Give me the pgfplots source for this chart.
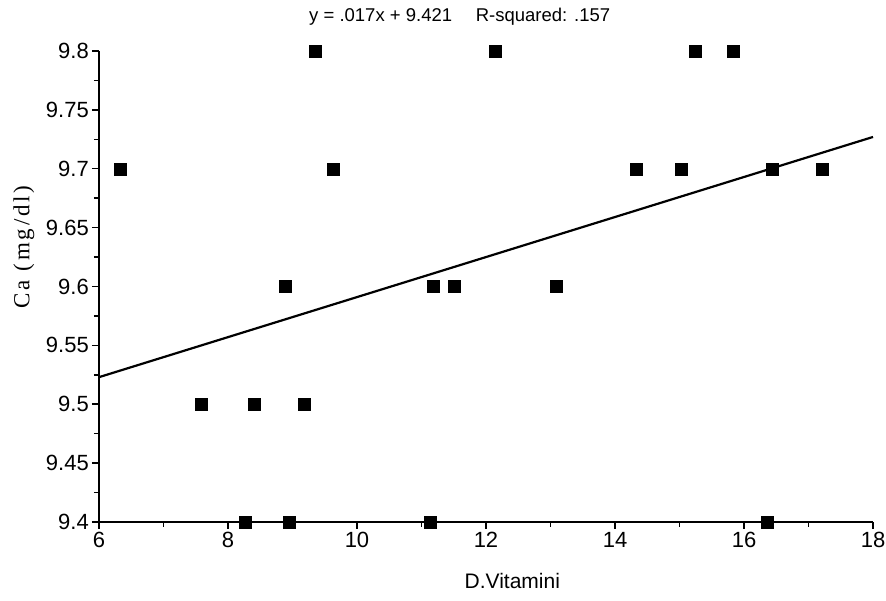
\documentclass[border=0pt]{standalone}
\usepackage{fontspec}
\setmainfont{Liberation Sans}
\newfontfamily\seriflab[LetterSpace=12]{Liberation Serif}
\usepackage{pgfplots}
\pgfplotsset{compat=1.18}
\pgfplotstableread{
x y
6.33 9.7
7.58 9.5
8.40 9.5
9.18 9.5
8.26 9.4
8.95 9.4
11.13 9.4
16.36 9.4
8.88 9.6
9.35 9.8
9.63 9.7
11.18 9.6
11.50 9.6
12.14 9.8
13.09 9.6
14.33 9.7
15.02 9.7
15.24 9.8
15.84 9.8
16.43 9.7
17.22 9.7
}\pts
\begin{document}
\begin{tikzpicture}
\begin{axis}[
  scale only axis, width=774pt, height=471pt,
  xmin=6, xmax=18, ymin=9.4, ymax=9.8,
  axis x line*=bottom, axis y line*=left,
  axis line style={line width=1.8pt},
  xtick={6,8,10,12,14,16,18},
  ytick={9.4,9.45,9.5,9.55,9.6,9.65,9.7,9.75,9.8},
  yticklabels={9.4,9.45,9.5,9.55,9.6,9.65,9.7,9.75,9.8},
  minor x tick num=1, minor y tick num=1,
  tick align=outside,
  major tick length=7pt, minor tick length=5pt,
  tick style={line width=1.5pt, black},
  /pgf/number format/assume math mode=true,
  ticklabel style={font=\fontsize{22}{24}\selectfont},
  xticklabel style={inner sep=3pt},
  yticklabel style={inner sep=3pt},
  xlabel={D.Vitamini},
  xlabel style={at={(axis description cs:0.534,-0.125)}, anchor=center, font=\fontsize{21}{24}\selectfont},
  ylabel={Ca (mg/dl)},
  ylabel style={at={(axis description cs:-0.097,0.584)}, anchor=center, font=\seriflab\fontsize{23}{26}\selectfont},
  clip=false,
]
\addplot[black, line width=2.2pt] coordinates {(6,9.523) (18,9.727)};
\addplot[only marks, mark=square*, mark size=6pt, mark options={black, fill=black, rounded corners=2.5pt}] table[x=x,y=y] {\pts};
\coordinate (O) at (rel axis cs:0,0);
\coordinate (T) at (rel axis cs:0.466,1);
\end{axis}
\node[anchor=base, inner sep=0pt, font=\fontsize{18.5}{21}\selectfont] at ([yshift=29pt]T) {y = .017x + 9.421\hspace{1em} R-squared: .157};
\pgfresetboundingbox
\path[use as bounding box] (O) ++(-99pt,-79pt) rectangle ++(886pt,601pt);
\end{tikzpicture}
\end{document}
